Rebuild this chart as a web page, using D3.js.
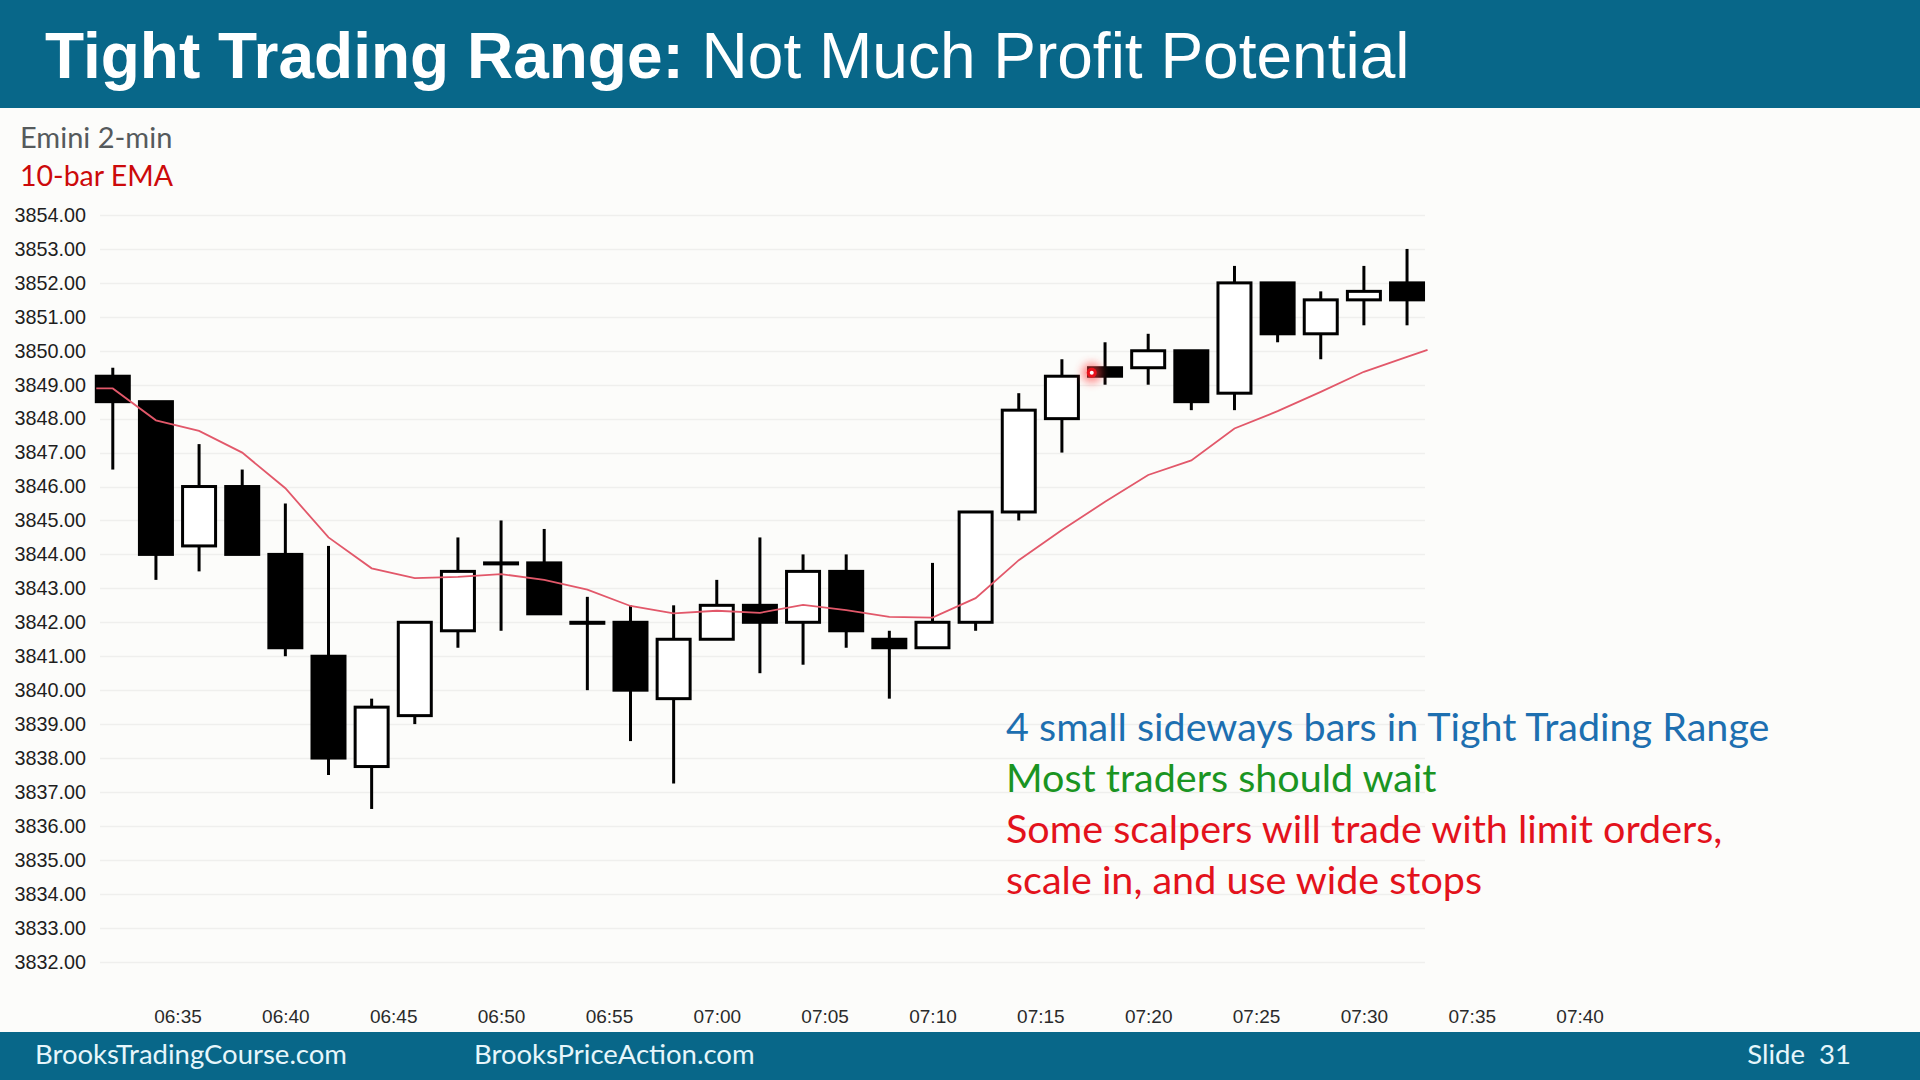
<!DOCTYPE html>
<html>
<head>
<meta charset="utf-8">
<script src="https://cdn.jsdelivr.net/npm/d3@7"></script>
<style>
  html, body { margin: 0; padding: 0; background: #fcfcfa; }
  svg { display: block; }
</style>
</head>
<body>
<svg id="chart" width="1920" height="1080"></svg>
<script>
// ---------------- DATA ----------------
const barTimes = ["06:32","06:34","06:36","06:38","06:40","06:42","06:44","06:46","06:48","06:50",
                  "06:52","06:54","06:56","06:58","07:00","07:02","07:04","07:06","07:08","07:10",
                  "07:12","07:14","07:16","07:18","07:20","07:22","07:24","07:26","07:28","07:30","07:32"];
const opens  = [3849.25,3848.5,3844.25,3846,3844,3841,3837.75,3839.25,3841.75,3843.75,
                3843.75,3842,3842,3839.75,3841.5,3842.5,3842,3843.5,3841.5,3841.25,
                3842,3845.25,3848,3849.5,3849.5,3850,3848.75,3852,3850.5,3851.5,3852];
const highs  = [3849.5,3848.5,3847.25,3846.5,3845.5,3844.25,3839.75,3842,3844.5,3845,
                3844.75,3842.75,3842.5,3842.5,3843.25,3844.5,3844,3844,3841.75,3843.75,
                3845.25,3848.75,3849.75,3850.25,3850.5,3850,3852.5,3852,3851.75,3852.5,3853];
const lows   = [3846.5,3843.25,3843.5,3844,3841,3837.5,3836.5,3839,3841.25,3841.75,
                3842.25,3840,3838.5,3837.25,3841.5,3840.5,3840.75,3841.25,3839.75,3841.25,
                3841.75,3845,3847,3849,3849,3848.25,3848.25,3850.25,3849.75,3850.75,3850.75];
const closes = [3848.5,3844,3846,3844,3841.25,3838,3839.5,3842,3843.5,3843.75,
                3842.25,3842,3840,3841.5,3842.5,3842,3843.5,3841.75,3841.25,3842,
                3845.25,3848.25,3849.25,3849.25,3850,3848.5,3852,3850.5,3851.5,3851.75,3851.5];
const emaValues = [3848.89,3847.95,3847.64,3847.00,3845.95,3844.50,3843.59,3843.30,3843.34,3843.42,
                   3843.25,3842.96,3842.48,3842.26,3842.34,3842.28,3842.51,3842.36,3842.16,3842.14,
                   3842.71,3843.83,3844.72,3845.55,3846.34,3846.77,3847.71,3848.22,3848.79,3849.38,3849.82];
const yTickValues = d3.range(3832, 3855, 1);
const xTickLabels = ["06:35","06:40","06:45","06:50","06:55","07:00","07:05","07:10",
                     "07:15","07:20","07:25","07:30","07:35","07:40"];
const pointer = { time: "07:17:23", price: 3849.35 };

const titleBold = "Tight Trading Range:";
const titleRegular = " Not Much Profit Potential";
const chartLabel = "Emini 2-min";
const emaLabel = "10-bar EMA";
const notes = [
  { text: "4 small sideways bars in Tight Trading Range", color: "#1d6fb0" },
  { text: "Most traders should wait", color: "#1a9422" },
  { text: "Some scalpers will trade with limit orders,", color: "#e3121c" },
  { text: "scale in, and use wide stops", color: "#e3121c" }
];
const footerLeft = "BrooksTradingCourse.com";
const footerMid = "BrooksPriceAction.com";
const footerRight = "Slide  31";

// ---------------- DRAW ----------------
const svg = d3.select("#chart");
const W = 1920, H = 1080;
const teal = "#086789";

svg.append("rect").attr("width", W).attr("height", H).attr("fill", "#fcfcfa");

// header
svg.append("rect").attr("x", 0).attr("y", 0).attr("width", W).attr("height", 108).attr("fill", teal);
const title = svg.append("text").attr("x", 45).attr("y", 78)
  .attr("font-family", "'Liberation Sans', Arial, sans-serif").attr("font-size", 64).attr("fill", "#ffffff");
title.append("tspan").attr("font-weight", "bold").text(titleBold);
title.append("tspan").attr("font-weight", "normal").style("white-space", "pre").text(titleRegular);

// footer
svg.append("rect").attr("x", 0).attr("y", 1032).attr("width", W).attr("height", 48).attr("fill", teal);
const footFont = "Lato, 'Open Sans', sans-serif";
svg.append("text").attr("x", 35).attr("y", 1064).attr("font-family", footFont).attr("font-size", 27.5)
  .attr("fill", "#e6f6fb").text(footerLeft);
svg.append("text").attr("x", 474).attr("y", 1064).attr("font-family", footFont).attr("font-size", 27.5)
  .attr("fill", "#e6f6fb").text(footerMid);
svg.append("text").attr("x", 1851).attr("y", 1064).attr("font-family", footFont).attr("font-size", 27.5)
  .attr("text-anchor", "end").style("white-space", "pre").attr("fill", "#e6f6fb").text(footerRight);

// chart labels
svg.append("text").attr("x", 20).attr("y", 148).attr("font-family", footFont).attr("font-size", 29)
  .attr("fill", "#555a5c").text(chartLabel);
svg.append("text").attr("x", 20).attr("y", 186).attr("font-family", footFont).attr("font-size", 28.5)
  .attr("fill", "#cc0a0a").text(emaLabel);

// scales
const parseT = d3.timeParse("%H:%M");
const parseTs = d3.timeParse("%H:%M:%S");
const x = d3.scaleTime()
  .domain([parseT("06:30"), parseT("07:40")])
  .range([69.65, 1579.6]);
const y = d3.scaleLinear().domain([3832, 3854]).range([961.7, 215]);

const barStep = x(parseT("06:34")) - x(parseT("06:32"));
const bodyW = 33;

// gridlines
svg.append("g").selectAll("line").data(yTickValues).join("line")
  .attr("x1", 100).attr("x2", 1425)
  .attr("y1", d => Math.round(y(d)) + 0.5).attr("y2", d => Math.round(y(d)) + 0.5)
  .attr("stroke", "#efefed").attr("stroke-width", 1.5);

// y axis
const yAxis = d3.axisLeft(y).tickValues(yTickValues).tickFormat(d3.format(".2f")).tickSize(0).tickPadding(0);
const yg = svg.append("g").attr("transform", "translate(86,0)").call(yAxis);
yg.select(".domain").remove();
yg.selectAll("text").attr("font-family", "'Liberation Sans', Arial, sans-serif").attr("font-size", 19.8)
  .attr("fill", "#1e1e1e");

// x axis
const xAxis = d3.axisBottom(x).tickValues(xTickLabels.map(parseT)).tickFormat(d3.timeFormat("%H:%M"))
  .tickSize(0).tickPadding(0);
const xg = svg.append("g").attr("transform", "translate(0,1009)").call(xAxis);
xg.select(".domain").remove();
xg.selectAll("text").attr("font-family", "'Liberation Sans', Arial, sans-serif").attr("font-size", 19)
  .attr("fill", "#2a2a2a").attr("dy", "0.71em");

// candles
const bars = barTimes.map((t, i) => ({ t: parseT(t), o: opens[i], h: highs[i], l: lows[i], c: closes[i], ema: emaValues[i] }));
const cg = svg.append("g");
cg.selectAll("line.wick").data(bars).join("line").attr("class", "wick")
  .attr("x1", d => x(d.t)).attr("x2", d => x(d.t))
  .attr("y1", d => y(d.h)).attr("y2", d => y(d.l))
  .attr("stroke", "#000").attr("stroke-width", 3);
cg.selectAll("rect.body").data(bars).join("rect").attr("class", "body")
  .attr("x", d => x(d.t) - bodyW / 2)
  .attr("width", bodyW)
  .attr("y", d => y(Math.max(d.o, d.c)))
  .attr("height", d => Math.max(1, Math.abs(y(d.o) - y(d.c))))
  .attr("fill", d => d.c > d.o ? "#ffffff" : "#000000")
  .attr("stroke", "#000").attr("stroke-width", 3);

// EMA line (extended half a body at both ends)
const n = bars.length;
const lastSlope = (bars[n-1].ema - bars[n-2].ema) / barStep;
const emaPts = [[x(bars[0].t) - bodyW / 2, y(bars[0].ema)]]
  .concat(bars.map(d => [x(d.t), y(d.ema)]))
  .concat([[x(bars[n-1].t) + bodyW / 2 + 4, y(bars[n-1].ema + lastSlope * (bodyW / 2 + 4))]]);
svg.append("path").attr("d", d3.line()(emaPts))
  .attr("fill", "none").attr("stroke", "#e2586a").attr("stroke-width", 1.8);

// laser pointer dot
const defs = svg.append("defs");
defs.append("filter").attr("id", "glow").attr("x", "-100%").attr("y", "-100%").attr("width", "300%").attr("height", "300%")
  .append("feGaussianBlur").attr("stdDeviation", 4);
const px = x(parseTs(pointer.time)), py = y(pointer.price);
svg.append("circle").attr("cx", px).attr("cy", py).attr("r", 10).attr("fill", "#ff4040").attr("opacity", 0.6).attr("filter", "url(#glow)");
svg.append("circle").attr("cx", px).attr("cy", py).attr("r", 5).attr("fill", "#e8101a");
svg.append("circle").attr("cx", px).attr("cy", py).attr("r", 2).attr("fill", "#ffffff");

// annotation
const noteBaselines = [741, 792, 843, 894];
const ng = svg.append("g");
notes.forEach((nt, i) => {
  ng.append("text").attr("x", 1006).attr("y", noteBaselines[i])
    .attr("font-family", "Lato, 'Open Sans', sans-serif").attr("font-size", 39.5)
    .attr("fill", nt.color).text(nt.text);
});
</script>
</body>
</html>
